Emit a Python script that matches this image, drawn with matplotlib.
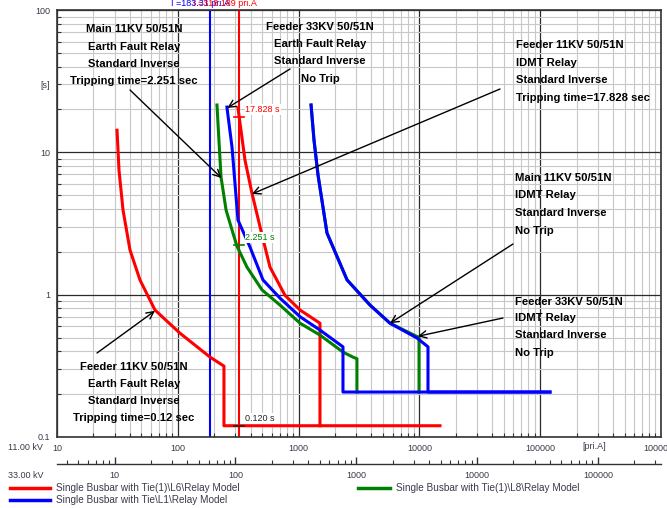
import matplotlib
matplotlib.use("Agg")
import matplotlib.pyplot as plt
from matplotlib.lines import Line2D
from matplotlib.ticker import FixedLocator, LogLocator, FuncFormatter, NullFormatter

W, H = 667, 508

# relay curves, current in pri.A (11 kV side), time in s
red_ef_i = [31.4, 32.6, 35.2, 40.2, 48.6, 64.7, 104, 185, 241, 241, 14800]
red_ef_t = [14.3, 7.5, 3.93, 2.06, 1.27, 0.78, 0.537, 0.364, 0.315, 0.12, 0.12]

red_idmt_i = [315, 360, 411, 498, 580, 771, 1028, 1503, 1503]
red_idmt_t = [20.5, 8.8, 5.17, 2.62, 1.56, 0.99, 0.78, 0.63, 0.12]

green_ef_i = [211, 219, 228, 251, 286, 309, 374, 498, 701, 1028, 1503, 2330, 2820, 3040, 3040]
green_ef_t = [21.5, 12.2, 6.7, 3.93, 2.71, 2.19, 1.56, 1.08, 0.845, 0.63, 0.52, 0.395, 0.364, 0.355, 0.207]

green_idmt_i = [1268, 1341, 1448, 1718, 2518, 3900, 5710, 9930, 9930]
green_idmt_t = [21.5, 12.2, 6.93, 2.71, 1.27, 0.845, 0.63, 0.50, 0.207]

blue_ef_i = [255, 281, 315, 396, 507, 701, 1028, 1503, 2330, 2330, 120500]
blue_ef_t = [20.8, 10.9, 3.34, 2.16, 1.27, 0.946, 0.70, 0.564, 0.43, 0.207, 0.207]

blue_idmt_i = [1268, 1341, 1448, 1718, 2518, 3900, 5710, 9550, 11780, 11780, 120500]
blue_idmt_t = [21.5, 12.2, 6.93, 2.71, 1.27, 0.845, 0.63, 0.496, 0.43, 0.207, 0.207]

blue_cursor = 183.31
red_cursor = 318.189
trip_times = [17.828, 2.251, 0.120]

x_ticks = [10, 100, 1000, 10000, 100000, 1000000]
y_ticks = [0.1, 1, 10, 100]
x33_ticks = [10, 100, 1000, 10000, 100000]

legend_names = ["Single Busbar with Tie(1)\\L6\\Relay Model",
                "Single Busbar with Tie\\L1\\Relay Model",
                "Single Busbar with Tie(1)\\L8\\Relay Model"]

RED, BLUE, GREEN = "#ff0000", "#0000ff", "#008000"
TICK_C = "#3a3a4a"
FONT = ["Liberation Sans", "DejaVu Sans"]


def fpx(x, y):
    return (x / W, 1 - y / H)


fig = plt.figure(figsize=(W / 100, H / 100), dpi=100)
ax = fig.add_axes([57 / W, 1 - 437 / H, 604 / W, 427 / H])
ax.set_xscale("log")
ax.set_yscale("log")
ax.set_xlim(10, 1e6)
ax.set_ylim(0.1, 100)

ax.xaxis.set_major_locator(FixedLocator(x_ticks))
ax.yaxis.set_major_locator(FixedLocator(y_ticks))
ax.xaxis.set_minor_locator(LogLocator(subs=range(2, 10), numticks=20))
ax.yaxis.set_minor_locator(LogLocator(subs=range(2, 10), numticks=20))
ax.xaxis.set_minor_formatter(NullFormatter())
ax.yaxis.set_minor_formatter(NullFormatter())
ax.xaxis.set_major_formatter(FuncFormatter(lambda v, p: f"{int(round(v))}"))
ax.yaxis.set_major_formatter(FuncFormatter(lambda v, p: f"{v:g}"))

ax.grid(True, which="major", color="#2a2a2a", lw=0.9)
ax.grid(True, which="minor", color="#c8c8c8", lw=0.8)
ax.set_axisbelow(True)
ax.tick_params(which="both", direction="in", colors="#333333", labelcolor=TICK_C,
               labelsize=6.5)
ax.tick_params(which="major", length=0, pad=5)
ax.tick_params(which="minor", length=3, width=0.8)
for lab in ax.get_xticklabels() + ax.get_yticklabels():
    lab.set_family(FONT)
for sp in ax.spines.values():
    sp.set_color("#333333")
    sp.set_linewidth(1.2)

# cursor lines
ax.axvline(blue_cursor, color=BLUE, lw=1.5)
ax.axvline(red_cursor, color=RED, lw=1.5)

# curves
lw = 2.2
ax.plot(green_idmt_i, green_idmt_t, color=GREEN, lw=lw)
ax.plot(red_ef_i, red_ef_t, color=RED, lw=lw)
ax.plot(red_idmt_i, red_idmt_t, color=RED, lw=lw)
ax.plot(green_ef_i, green_ef_t, color=GREEN, lw=lw)
ax.plot(blue_ef_i, blue_ef_t, color=BLUE, lw=lw)
ax.plot(blue_idmt_i, blue_idmt_t, color=BLUE, lw=lw)

# trip time markers at the red cursor
for t, c in [(trip_times[0], RED), (trip_times[1], GREEN), (trip_times[2], "#222222")]:
    ax.plot([red_cursor / 1.1, red_cursor * 1.1], [t, t], color=c, lw=1.2)
    ax.annotate(f"{t:.3f} s", xy=(red_cursor, t), xytext=(5, 5), textcoords="offset points",
                fontsize=6.5, color=c, family=FONT, va="center", ha="left",
                bbox=dict(boxstyle="square,pad=0.1", fc="white", ec="none"))

# cursor readout on top
fig.text(*fpx(171, 4), f"I ={blue_cursor:.2f} pri.A", color=BLUE, fontsize=6.5,
         family=FONT, va="center", ha="left")
fig.text(*fpx(193, 4), f"I ={red_cursor:.3f} pri.A", color=RED, fontsize=6.5,
         family=FONT, va="center", ha="left")

# axis captions
ax.text(-0.012, 0.823, "[s]", transform=ax.transAxes, fontsize=6.5, color=TICK_C,
        family=FONT, ha="right", va="center")
ax.text(280000, -0.023, "[pri.A]", transform=ax.get_xaxis_transform(), fontsize=6.5,
        color=TICK_C, family=FONT, ha="center", va="center")
fig.text(*fpx(8, 447), "11.00 kV", fontsize=6.5, color=TICK_C, family=FONT, va="center")
fig.text(*fpx(8, 476), "33.00 kV", fontsize=6.5, color=TICK_C, family=FONT, va="center")

# 33 kV current scale
sec = ax.secondary_xaxis((437 - 464) / 427, functions=(lambda x: x / 3, lambda x: x * 3))
sec.xaxis.set_major_locator(FixedLocator(x33_ticks))
sec.xaxis.set_minor_locator(LogLocator(subs=range(2, 10), numticks=20))
sec.xaxis.set_minor_formatter(NullFormatter())
sec.xaxis.set_major_formatter(FuncFormatter(lambda v, p: f"{int(round(v))}"))
sec.tick_params(which="both", direction="in", colors="#333333", labelcolor=TICK_C,
                labelsize=6.5)
sec.tick_params(which="major", length=5, width=1, pad=5)
sec.tick_params(which="minor", length=3, width=0.8)
sec.spines["bottom"].set_color("#333333")
sec.spines["bottom"].set_linewidth(1.0)
for lab in sec.get_xticklabels():
    lab.set_family(FONT)


# notes
def note(lines, x, ys, ha):
    for s, y in zip(lines, ys):
        fig.text(*fpx(x, y), s, fontsize=8.1, fontweight="bold", family=FONT,
                 ha=ha, va="center", color="black")


def arrow(head, tail):
    ax.annotate("", xy=head, xycoords="data", xytext=fpx(*tail), textcoords="figure fraction",
                arrowprops=dict(arrowstyle="->", color="black", lw=1.0, mutation_scale=13,
                                shrinkA=0, shrinkB=0))


note(["Main 11KV 50/51N", "Earth Fault Relay", "Standard Inverse", "Tripping time=2.251 sec"],
     134, [29, 47, 64, 81], "center")
arrow((230, 6.6), (130, 90))

note(["Feeder 33KV 50/51N", "Earth Fault Relay", "Standard Inverse", "No Trip"],
     320, [27, 44, 61, 79], "center")
arrow((257, 20.5), (290, 69))

note(["Feeder 11KV 50/51N", "IDMT Relay", "Standard Inverse", "Tripping time=17.828 sec"],
     516, [45, 63, 80, 98], "left")
arrow((411, 5.1), (500, 89))

note(["Main 11KV 50/51N", "IDMT Relay", "Standard Inverse", "No Trip"],
     515, [178, 195, 213, 231], "left")
arrow((5710, 0.63), (513, 244))

note(["Feeder 33KV 50/51N", "IDMT Relay", "Standard Inverse", "No Trip"],
     515, [302, 318, 335, 353], "left")
arrow((9700, 0.51), (503, 318))

note(["Feeder 11KV 50/51N", "Earth Fault Relay", "Standard Inverse", "Tripping time=0.12 sec"],
     134, [367, 384, 401, 418], "center")
arrow((64.7, 0.77), (97, 353))

# legend rows
for (x0, x1, y, c), name in zip([(10, 50, 488, RED), (10, 50, 500, BLUE), (358, 390, 488, GREEN)],
                                legend_names):
    fig.add_artist(Line2D([x0 / W, x1 / W], [1 - y / H, 1 - y / H], transform=fig.transFigure,
                          color=c, lw=2.5))
    fig.text(*fpx(x1 + 6, y), name, fontsize=7.2, color=TICK_C, family=FONT, va="center")

fig.savefig("out.png", dpi=100)
